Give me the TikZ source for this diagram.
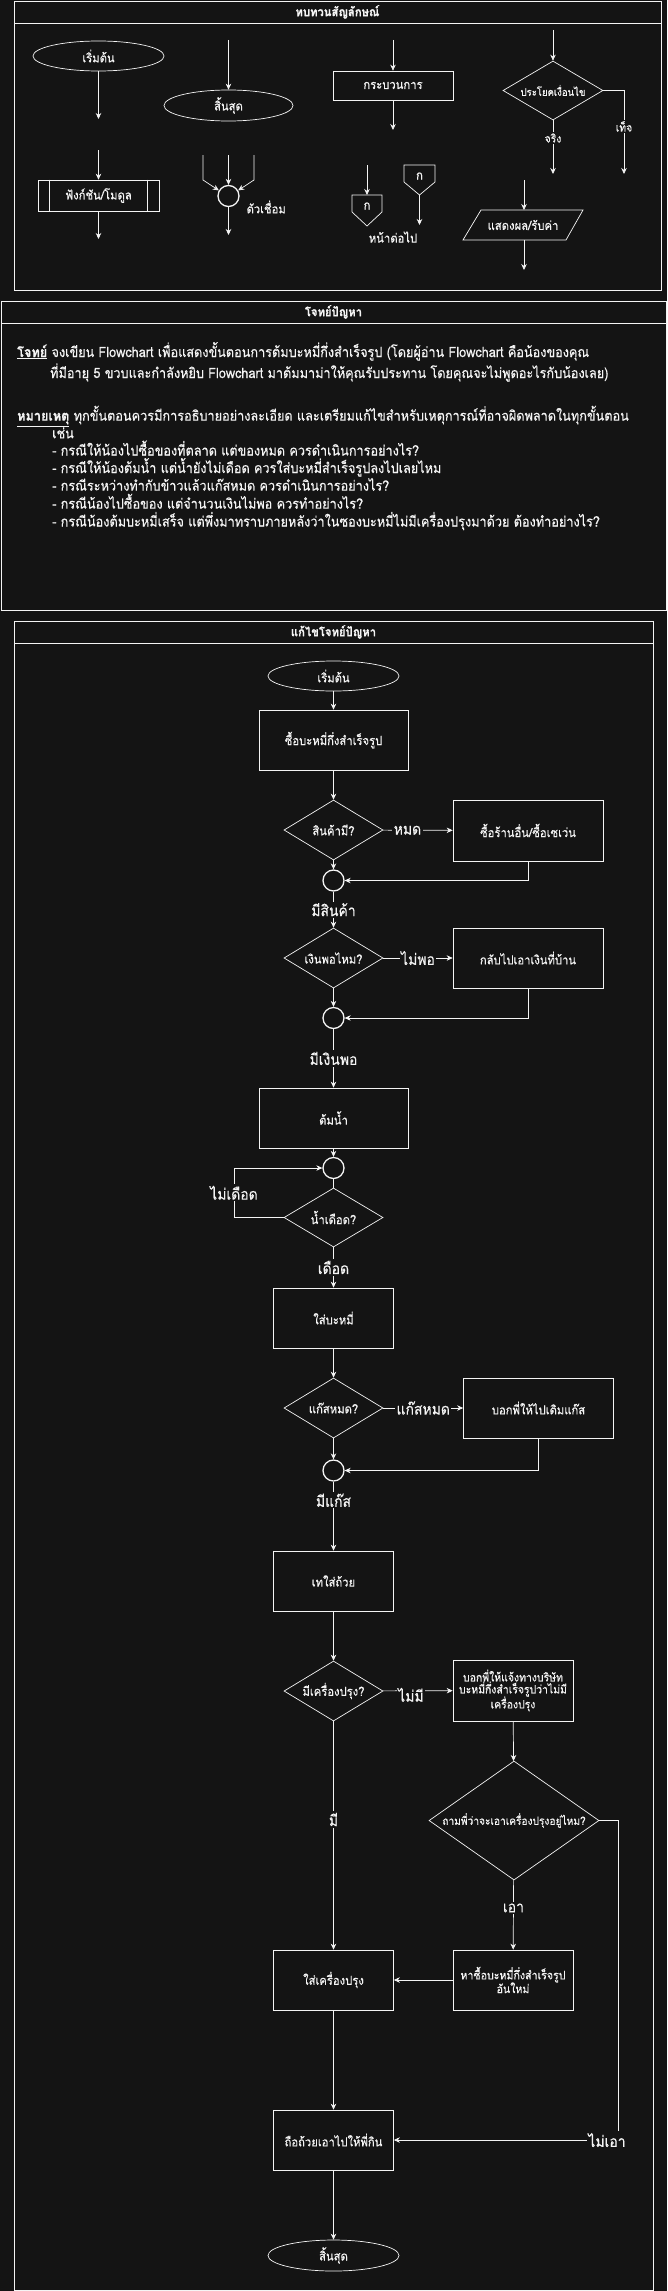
\documentclass[tikz,border=0pt]{standalone}
\usepackage{fontspec}
\setmainfont[Script=Thai, FakeStretch=0.9, FakeBold=0.4, BoldFeatures={FakeBold=0.6}]{Loma}
\usetikzlibrary{shapes.geometric,arrows.meta}
\definecolor{bg}{HTML}{141414}
\definecolor{fg}{HTML}{F4F4F4}
\newcommand{\zw}[1]{\makebox[0pt]{#1}}
\begin{document}
\begin{tikzpicture}[x=1pt,y=-1pt,
  ln/.style={draw=fg, line width=0.7pt},
  arr/.style={draw=fg, line width=0.7pt, -{Stealth[length=6pt,width=5.5pt]}},
  tx/.style={text=fg, font=\fontsize{12.5}{14}\selectfont},
  proc/.style={rectangle, draw=fg, line width=0.7pt, inner sep=2pt, text=fg, font=\fontsize{12.5}{14}\selectfont, align=center},
  dec/.style={diamond, draw=fg, line width=0.7pt, inner sep=0pt, text=fg, font=\fontsize{12.5}{15}\selectfont},
  term/.style={ellipse, draw=fg, line width=0.7pt, inner sep=0pt, minimum width=131pt, minimum height=30pt, text=fg, font=\fontsize{12.5}{14}\selectfont},
  conn/.style={circle, draw=fg, line width=1.3pt, minimum size=21pt, inner sep=0pt},
  lbl/.style={fill=bg, text=fg, inner sep=1.5pt, font=\fontsize{15.5}{18}\selectfont},
  lbls/.style={fill=bg, text=fg, inner sep=1.5pt, font=\fontsize{11.5}{13}\selectfont},
  head/.style={text=fg, font=\bfseries\fontsize{12.5}{14}\selectfont},
  body/.style={text=fg, anchor=base west, inner sep=0pt, font=\fontsize{14.1}{15}\selectfont}
]
\fill[bg] (0,0) rectangle (667,2291);
\useasboundingbox (0,0) rectangle (667,2291);

% ===== Legend =====
\draw[ln] (14,1) rectangle (661,290);
\draw[ln] (14,23) -- (661,23);
\node[head] (h1) at (337.5,12) {ทบทวนสัญลักษณ์};

\node[term] (ls) at (98.5,56) {เริ่มต้น};
\coordinate (lsE) at (98.5,119);
\draw[arr] (ls) -- (lsE);

\coordinate (leS) at (228.5,40);
\node[term, minimum width=129pt, minimum height=31pt] (le) at (228.5,105.5) {สิ้นสุด};
\draw[arr] (leS) -- (le);

\node[proc, minimum width=120pt, minimum height=29pt] (lp) at (393,85.5) {กระบวนการ};
\coordinate (lpS) at (393,40);
\coordinate (lpE) at (393,130);
\draw[arr] (lpS) -- (lp);
\draw[arr] (lp) -- (lpE);

\node[dec, minimum width=100pt, minimum height=59pt, font=\fontsize{10.6}{13}\selectfont] (ld) at (553,90.5) {\zw{ประโยคเงื่อนไข}};
\coordinate (ldS) at (553,30);
\coordinate (ldT) at (553,174);
\coordinate (ldF1) at (624,90.5);
\coordinate (ldF) at (624,174);
\draw[arr] (ldS) -- (ld);
\draw[arr] (ld) -- node[lbls, pos=0.33] {จริง} (ldT);
\draw[arr] (ld.east) -- (ldF1) -- node[lbls, pos=0.43] {เท็จ} (ldF);

\node[proc, minimum width=121pt, minimum height=31pt] (lf) at (98.5,195.5) {ฟังก์ชัน/โมดูล};
\draw[ln] ([xshift=12pt]lf.north west) -- ([xshift=12pt]lf.south west);
\draw[ln] ([xshift=-12pt]lf.north east) -- ([xshift=-12pt]lf.south east);
\coordinate (lfS) at (98.5,150);
\coordinate (lfE) at (98.5,239);
\draw[arr] (lfS) -- (lf);
\draw[arr] (lf) -- (lfE);

\node[conn] (lc) at (228.5,196) {};
\coordinate (lc1) at (203,155);
\coordinate (lc1b) at (203,180);
\coordinate (lc2) at (254,155);
\coordinate (lc2b) at (254,180);
\coordinate (lc3) at (228.5,155);
\coordinate (lcE) at (228.5,235);
\draw[arr] (lc1) -- (lc1b) -- (lc.150);
\draw[arr] (lc2) -- (lc2b) -- (lc.30);
\draw[arr] (lc3) -- (lc);
\draw[arr] (lc) -- (lcE);
\node[tx, anchor=west] (lct) at (243,207) {ตัวเชื่อม};

\draw[ln] (352,195) -- (382,195) -- (382,212) -- (367,226) -- (352,212) -- cycle;
\node[tx] (op1) at (367,206) {ก};
\coordinate (op1S) at (367,165);
\coordinate (op1T) at (367,195);
\draw[arr] (op1S) -- (op1T);
\draw[ln] (404,165) -- (435,165) -- (435,182) -- (419.5,195) -- (404,182) -- cycle;
\node[tx] (op2) at (419.5,176) {ก};
\coordinate (op2B) at (419.5,195);
\coordinate (op2E) at (419.5,225);
\draw[arr] (op2B) -- (op2E);
\node[tx] (opt) at (393,237) {หน้าต่อไป};

\draw[ln] (481,210) -- (583,210) -- (566,240) -- (463,240) -- cycle;
\node[tx] (io) at (523,225) {แสดงผล/รับค่า};
\coordinate (ioS) at (524,180);
\coordinate (ioT) at (524,210);
\coordinate (ioB) at (524,240);
\coordinate (ioE) at (524,270);
\draw[arr] (ioS) -- (ioT);
\draw[arr] (ioB) -- (ioE);

% ===== Problem =====
\draw[ln] (1,301) rectangle (666,610);
\draw[ln] (1,323) -- (666,323);
\node[head] (h2) at (333.5,312) {โจทย์ปัญหา};
\node[body] (p1) at (17,357) {\textbf{\underline{โจทย์}} จงเขียน Flowchart เพื่อแสดงขั้นตอนการต้มบะหมี่กึ่งสำเร็จรูป (โดยผู้อ่าน Flowchart คือน้องของคุณ};
\node[body] (p2) at (50,378) {ที่มีอายุ 5 ขวบและกำลังหยิบ Flowchart มาต้มมาม่าให้คุณรับประทาน โดยคุณจะไม่พูดอะไรกับน้องเลย)};
\node[body] (p3) at (17,420.7) {\textbf{\underline{หมายเหตุ}} ทุกขั้นตอนควรมีการอธิบายอย่างละเอียด และเตรียมแก้ไขสำหรับเหตุการณ์ที่อาจผิดพลาดในทุกขั้นตอน};
\node[body] (p4) at (52,438.3) {เช่น};
\node[body] (p5) at (52,455.5) {- กรณีให้น้องไปซื้อของที่ตลาด แต่ของหมด ควรดำเนินการอย่างไร?};
\node[body] (p6) at (52,473) {- กรณีให้น้องต้มน้ำ แต่น้ำยังไม่เดือด ควรใส่บะหมี่สำเร็จรูปลงไปเลยไหม};
\node[body] (p7) at (52,490.7) {- กรณีระหว่างทำกับข้าวแล้วแก๊สหมด ควรดำเนินการอย่างไร?};
\node[body] (p8) at (52,508.7) {- กรณีน้องไปซื้อของ แต่จำนวนเงินไม่พอ ควรทำอย่างไร?};
\node[body] (p9) at (52,526.5) {- กรณีน้องต้มบะหมี่เสร็จ แต่พึ่งมาทราบภายหลังว่าในซองบะหมี่ไม่มีเครื่องปรุงมาด้วย ต้องทำอย่างไร?};

% ===== Solution =====
\draw[ln] (14,621) rectangle (653,2290);
\draw[ln] (14,643) -- (653,643);
\node[head] (h3) at (333.5,632) {แก้ไขโจทย์ปัญหา};

\node[term] (s) at (333.5,676) {เริ่มต้น};
\node[proc, minimum width=149pt, minimum height=60pt] (b1) at (333.5,740) {ซื้อบะหมี่กึ่งสำเร็จรูป};
\node[dec, minimum width=99pt, minimum height=60pt] (d1) at (333.5,830) {\zw{สินค้ามี?}};
\node[proc, minimum width=150pt, minimum height=61pt] (r1) at (528,830.5) {ซื้อร้านอื่น/ซื้อเซเว่น};
\node[conn] (c1) at (333.5,880.5) {};
\node[dec, minimum width=99pt, minimum height=60pt] (d2) at (333.5,958) {\zw{เงินพอไหม?}};
\node[proc, minimum width=150pt, minimum height=60pt] (r2) at (528,958) {กลับไปเอาเงินที่บ้าน};
\node[conn] (c2) at (333.5,1018) {};
\node[proc, minimum width=149pt, minimum height=60pt] (b2) at (333.5,1118) {ต้มน้ำ};
\node[conn] (c3) at (333.5,1168) {};
\node[dec, minimum width=99pt, minimum height=59pt] (d3) at (333.5,1217.5) {\zw{น้ำเดือด?}};
\node[proc, minimum width=120pt, minimum height=60pt] (b3) at (333.5,1318) {ใส่บะหมี่};
\node[dec, minimum width=99pt, minimum height=60pt] (d4) at (333.5,1408) {\zw{แก๊สหมด?}};
\node[proc, minimum width=150pt, minimum height=60pt] (r4) at (538.5,1408) {บอกพี่ให้ไปเติมแก๊ส};
\node[conn] (c4) at (333.5,1470.5) {};
\node[proc, minimum width=120pt, minimum height=60pt] (b4) at (333.5,1581) {เทใส่ถ้วย};
\node[dec, minimum width=99pt, minimum height=60pt] (d5) at (333.5,1691) {\zw{มีเครื่องปรุง?}};
\node[proc, minimum width=120pt, minimum height=61pt, inner sep=1pt, font=\fontsize{11.6}{13}\selectfont] (r5) at (513,1690.5) {บอกพี่ให้แจ้งทางบริษัท\\[-1pt]บะหมี่กึ่งสำเร็จรูปว่าไม่มี\\[-1pt]เครื่องปรุง};
\node[dec, minimum width=170pt, minimum height=119pt, font=\fontsize{11.3}{13}\selectfont] (d6) at (514,1820.5) {\zw{ถามพี่ว่าจะเอาเครื่องปรุงอยู่ไหม?}};
\node[proc, minimum width=120pt, minimum height=60pt, font=\fontsize{11.8}{13}\selectfont] (r6) at (513,1980) {หาซื้อบะหมี่กึ่งสำเร็จรูป\\[-1pt]อันใหม่};
\node[proc, minimum width=120pt, minimum height=60pt] (b5) at (333.5,1980) {ใส่เครื่องปรุง};
\node[proc, minimum width=120pt, minimum height=60pt] (b6) at (333.5,2140) {ถือถ้วยเอาไปให้พี่กิน};
\node[term, minimum height=31pt] (e) at (333.5,2255.5) {สิ้นสุด};

\draw[arr] (s) -- (b1);
\draw[arr] (b1) -- (d1);
\draw[arr] (d1) -- node[lbl, pos=0.35] {หมด} (r1);
\draw[arr] (d1) -- (c1);
\draw[arr] (r1.south) |- (c1.east);
\draw[arr] (c1) -- node[lbl] {มีสินค้า} (d2);
\draw[arr] (d2) -- node[lbl] {ไม่พอ} (r2);
\draw[arr] (d2) -- (c2);
\draw[arr] (r2.south) |- (c2.east);
\draw[arr] (c2) -- node[lbl] {มีเงินพอ} (b2);
\draw[arr] (b2) -- (c3);
\draw[ln] (c3) -- (d3);
\coordinate (k3) at (234,1217.5);
\draw[arr] (d3.west) -- (k3) -- node[lbl] {ไม่เดือด} (k3 |- c3.west) -- (c3.west);
\draw[arr] (d3) -- node[lbl] {เดือด} (b3);
\draw[arr] (b3) -- (d4);
\draw[arr] (d4) -- node[lbl] {แก๊สหมด} (r4);
\draw[arr] (d4) -- (c4);
\draw[arr] (r4.south) |- (c4.east);
\draw[arr] (c4) -- node[lbl, pos=0.27] {มีแก๊ส} (b4);
\draw[arr] (b4) -- (d5);
\draw[arr] (d5) -- node[lbl, pos=0.4, yshift=-4pt] {ไม่มี} (r5);
\draw[arr] (r5) -- (d6);
\draw[arr] (d5) -- node[lbl, pos=0.43] {มี} (b5);
\draw[arr] (d6) -- node[lbl, pos=0.4] {เอา} (r6);
\draw[arr] (r6) -- (b5);
\draw[arr] (b5) -- (b6);
\node[lbl] (nae) at (607,2140) {ไม่เอา};
\coordinate (k6) at (618,1820.5);
\draw[ln] (d6.east) -- (k6) -- (k6 |- nae.north);
\draw[arr] (nae.west) -- (b6.east);
\draw[arr] (b6) -- (e);
\end{tikzpicture}
\end{document}
